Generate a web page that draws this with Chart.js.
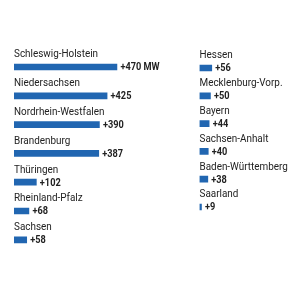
<!DOCTYPE html>
<html>
<head>
<meta charset="utf-8">
<script src="https://cdn.jsdelivr.net/npm/chart.js@4"></script>
<style>
  html, body { margin: 0; padding: 0; background: #fff; }
  #wrap { position: relative; width: 300px; height: 300px; }
  canvas { position: absolute; top: 0; left: 0; }
</style>
</head>
<body>
<div id="wrap">
  <canvas id="left" width="300" height="300"></canvas>
  <canvas id="right" width="300" height="300"></canvas>
</div>
<script>
// Zubau in MW je Bundesland
const leftStates = ['Schleswig-Holstein', 'Niedersachsen', 'Nordrhein-Westfalen', 'Brandenburg', 'Thüringen', 'Rheinland-Pfalz', 'Sachsen'];
const leftValues = [470, 425, 390, 387, 102, 68, 58];
const rightStates = ['Hessen', 'Mecklenburg-Vorp.', 'Bayern', 'Sachsen-Anhalt', 'Baden-Württemberg', 'Saarland'];
const rightValues = [56, 50, 44, 40, 38, 9];
const unit = ' MW';

const blue = '#2166b1';
const textColor = '#222';
const labelFont = "11px Roboto, sans-serif";
const valueFont = "bold 11.5px Roboto, sans-serif";

// narrow text, no condensed face installed
function narrowText(ctx, txt, x, y, sx) {
    ctx.save();
    ctx.translate(x, y);
    ctx.scale(sx, 1);
    ctx.fillText(txt, 0, 0);
    ctx.restore();
}

const labelsPlugin = {
    id: 'rowLabels',
    afterDatasetsDraw(chart) {
        const ctx = chart.ctx;
        const meta = chart.getDatasetMeta(0);
        const left = chart.chartArea.left;
        ctx.save();
        ctx.fillStyle = textColor;
        ctx.textAlign = 'left';
        meta.data.forEach((bar, i) => {
            ctx.font = labelFont;
            ctx.textBaseline = 'alphabetic';
            narrowText(ctx, chart.data.labels[i], left, bar.y - 9.7, 0.9);
            ctx.font = valueFont;
            ctx.textBaseline = 'middle';
            let txt = '+' + chart.data.datasets[0].data[i];
            if (chart.options.plugins.rowLabels.unit && i === 0) txt += unit;
            narrowText(ctx, txt, bar.x + 3.5, bar.y + 0.5, 0.8);
        });
        ctx.restore();
    }
};

function makeChart(id, states, values, max, padding, withUnit) {
    return new Chart(document.getElementById(id), {
        type: 'bar',
        data: {
            labels: states,
            datasets: [{
                data: values,
                backgroundColor: blue,
                barThickness: 6,
                borderWidth: 0
            }]
        },
        options: {
            indexAxis: 'y',
            responsive: false,
            animation: false,
            layout: { padding: padding },
            scales: {
                x: { display: false, min: 0, max: max },
                y: { display: false }
            },
            plugins: {
                legend: { display: false },
                tooltip: { enabled: false },
                rowLabels: { unit: withUnit }
            }
        },
        plugins: [labelsPlugin]
    });
}

makeChart('left', leftStates, leftValues, 600, { left: 14, right: 154.6, top: 52.6, bottom: 45.8 }, true);
makeChart('right', rightStates, rightValues, 400, { left: 199.5, right: 12.9, top: 54.1, bottom: 79.1 }, false);
</script>
</body>
</html>
